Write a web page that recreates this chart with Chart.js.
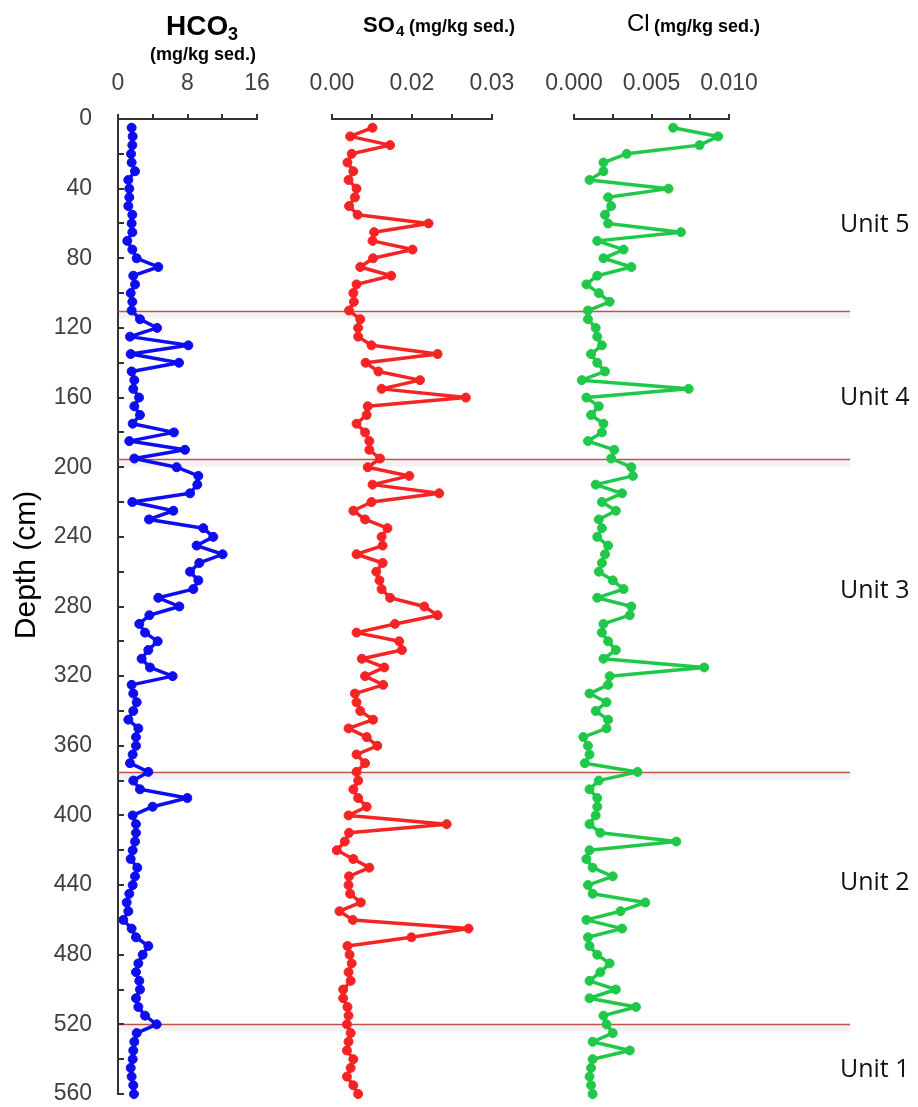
<!DOCTYPE html>
<html>
<head>
<meta charset="utf-8">
<script src="https://cdn.jsdelivr.net/npm/chart.js@4.4.1/dist/chart.umd.min.js"></script>
<style>
  body { margin: 0; background: #fff; }
  #wrap { position: relative; width: 918px; height: 1107px; }
  #wrap canvas { position: absolute; left: 0; top: 0; }
</style>
</head>
<body>
<div id="wrap">
  <canvas id="hco" width="918" height="1107"></canvas>
  <canvas id="so" width="918" height="1107"></canvas>
  <canvas id="cl" width="918" height="1107"></canvas>
</div>
<script>
// depth of each sample (cm)
let depth = [5, 10, 15, 20, 25, 30, 35, 40, 45, 50, 55, 60, 65, 70, 75, 80, 85, 90, 95, 100,
    105, 110, 115, 120, 125, 130, 135, 140, 145, 150, 155, 160, 165, 170, 175, 180, 185, 190, 195, 200,
    205, 210, 215, 220, 225, 230, 235, 240, 245, 250, 255, 260, 265, 270, 275, 280, 285, 290, 295, 300,
    305, 310, 315, 320, 325, 330, 335, 340, 345, 350, 355, 360, 365, 370, 375, 380, 385, 390, 395, 400,
    405, 410, 415, 420, 425, 430, 435, 440, 445, 450, 455, 460, 465, 470, 475, 480, 485, 490, 495, 500,
    505, 510, 515, 520, 525, 530, 535, 540, 545, 550, 555, 560];

let hco3 = [1.57, 1.69, 1.65, 1.50, 1.57, 1.96, 1.19, 1.30, 1.30, 1.19, 1.65, 1.57, 1.65, 1.07, 1.65, 2.15, 4.64, 1.76, 1.96, 1.46,
    1.65, 1.57, 2.53, 4.50, 1.38, 8.10, 1.46, 7.02, 1.57, 1.88, 1.76, 2.42, 1.88, 2.53, 1.69, 6.44, 1.30, 7.71, 1.88, 6.75,
    9.25, 9.13, 8.29, 1.65, 6.37, 3.57, 9.82, 10.97, 9.05, 12.04, 9.36, 8.29, 9.25, 8.67, 4.64, 7.06, 3.61, 2.45, 3.11, 4.57,
    3.49, 2.72, 3.68, 6.29, 1.57, 1.76, 2.15, 1.76, 1.19, 2.34, 2.07, 2.07, 1.69, 1.38, 3.49, 1.76, 2.53, 7.98, 3.99, 1.69,
    2.07, 2.07, 1.96, 1.69, 1.46, 2.22, 1.96, 1.69, 1.30, 1.00, 1.19, 0.61, 1.57, 2.07, 3.49, 2.84, 2.34, 2.07, 2.45, 2.53,
    2.07, 2.34, 3.11, 4.45, 2.15, 1.88, 1.76, 1.69, 1.46, 1.57, 1.76, 1.84];

let so4 = [0.0076, 0.0034, 0.0109, 0.0037, 0.0029, 0.0040, 0.0031, 0.0046, 0.0043, 0.0032, 0.0048, 0.0181, 0.0079, 0.0076, 0.0151, 0.0077, 0.0053, 0.0111, 0.0046, 0.0040,
    0.0041, 0.0032, 0.0053, 0.0049, 0.0049, 0.0074, 0.0198, 0.0063, 0.0087, 0.0165, 0.0093, 0.0251, 0.0067, 0.0065, 0.0046, 0.0062, 0.0070, 0.0070, 0.0090, 0.0067,
    0.0145, 0.0076, 0.0201, 0.0074, 0.0040, 0.0062, 0.0104, 0.0093, 0.0095, 0.0046, 0.0095, 0.0083, 0.0089, 0.0093, 0.0109, 0.0173, 0.0198, 0.0118, 0.0046, 0.0126,
    0.0131, 0.0056, 0.0098, 0.0062, 0.0096, 0.0043, 0.0046, 0.0053, 0.0077, 0.0031, 0.0065, 0.0085, 0.0046, 0.0062, 0.0046, 0.0049, 0.0040, 0.0049, 0.0065, 0.0031,
    0.0215, 0.0032, 0.0024, 0.0009, 0.0040, 0.0070, 0.0032, 0.0031, 0.0034, 0.0054, 0.0014, 0.0039, 0.0256, 0.0149, 0.0029, 0.0033, 0.0037, 0.0031, 0.0035, 0.0021,
    0.0021, 0.0029, 0.0031, 0.0028, 0.0035, 0.0031, 0.0028, 0.0040, 0.0035, 0.0028, 0.0040, 0.0049];

let cl = [0.0064, 0.0093, 0.0081, 0.0034, 0.0019, 0.0019, 0.0010, 0.0061, 0.0022, 0.0024, 0.0020, 0.0022, 0.0069, 0.0015, 0.0032, 0.0019, 0.0037, 0.0015, 0.0008, 0.0016,
    0.0023, 0.0009, 0.0009, 0.0014, 0.0015, 0.0018, 0.0011, 0.0015, 0.0020, 0.0005, 0.0074, 0.0008, 0.0016, 0.0011, 0.0019, 0.0018, 0.0009, 0.0026, 0.0024, 0.0037,
    0.0038, 0.0014, 0.0031, 0.0018, 0.0027, 0.0016, 0.0018, 0.0015, 0.0022, 0.0020, 0.0018, 0.0016, 0.0025, 0.0032, 0.0015, 0.0037, 0.0036, 0.0019, 0.0018, 0.0022,
    0.0027, 0.0019, 0.0084, 0.0023, 0.0022, 0.0010, 0.0021, 0.0014, 0.0022, 0.0021, 0.0006, 0.0009, 0.0010, 0.0007, 0.0041, 0.0016, 0.0010, 0.0015, 0.0015, 0.0014,
    0.0010, 0.0017, 0.0066, 0.0010, 0.0008, 0.0012, 0.0025, 0.0009, 0.0012, 0.0046, 0.0030, 0.0008, 0.0031, 0.0009, 0.0010, 0.0015, 0.0023, 0.0017, 0.0010, 0.0027,
    0.0010, 0.0040, 0.0019, 0.0021, 0.0025, 0.0012, 0.0036, 0.0012, 0.0011, 0.0010, 0.0011, 0.0012];

// unit boundaries (cm) and unit names
let unitBounds = [110, 195, 375, 520];
let unitNames = ["Unit 5", "Unit 4", "Unit 3", "Unit 2", "Unit 1"];
let unitLabelDepth = [61, 160, 271, 439, 546];

// tick values and labels
let depthTicks = [0, 20, 40, 60, 80, 100, 120, 140, 160, 180, 200, 220, 240, 260, 280, 300,
    320, 340, 360, 380, 400, 420, 440, 460, 480, 500, 520, 540, 560];
let depthLabels = ["0", "", "40", "", "80", "", "120", "", "160", "", "200", "", "240", "", "280", "",
    "320", "", "360", "", "400", "", "440", "", "480", "", "520", "", "560"];
let hcoTicks = [0, 4, 8, 12, 16];
let hcoLabels = ["0", "", "8", "", "16"];
let soTicks = [0, 0.0075, 0.015, 0.0225, 0.03];
let soLabels = ["0.00", "", "0.02", "", "0.03"];
let clTicks = [0, 0.0025, 0.005, 0.0075, 0.01];
let clLabels = ["0.000", "", "0.005", "", "0.010"];

const FAMILY = "'Liberation Sans', Arial, sans-serif";
const TICK_COLOR = "#404040";
const AXIS_COLOR = "#333333";

// titles and extra drawing for every panel
let panelInfo = {
    hco: {
        title: [
            { text: "HCO", font: "bold 28px " + FAMILY, x: 166, y: 35 },
            { text: "3", font: "bold 18px " + FAMILY, x: 228, y: 40 },
            { text: "(mg/kg sed.)", font: "bold 18px " + FAMILY, x: 203, y: 60, align: "center" }
        ],
        depthAxis: true
    },
    so: {
        title: [
            { text: "SO", font: "bold 22px " + FAMILY, x: 363, y: 32 },
            { text: "4", font: "bold 15px " + FAMILY, x: 396, y: 36 },
            { text: "(mg/kg sed.)", font: "bold 18px " + FAMILY, x: 409, y: 32 }
        ]
    },
    cl: {
        title: [
            { text: "Cl", font: "24px " + FAMILY, x: 627, y: 31 },
            { text: "(mg/kg sed.)", font: "bold 18px " + FAMILY, x: 654, y: 32 }
        ]
    }
};

const decor = {
    id: "decor",
    beforeDatasetsDraw(chart) {
        let info = panelInfo[chart.canvas.id];
        if (!info.depthAxis) return;
        let ctx = chart.ctx;
        let y = chart.scales.y;
        let left = chart.chartArea.left;
        ctx.save();
        // unit boundaries with a soft shadow like the original
        unitBounds.forEach(d => {
            let py = Math.round(y.getPixelForValue(d)) + 0.5;
            ctx.strokeStyle = "rgba(0,0,0,0.05)";
            ctx.lineWidth = 6;
            ctx.beginPath();
            ctx.moveTo(left, py + 4);
            ctx.lineTo(850, py + 4);
            ctx.stroke();
            ctx.strokeStyle = "#c0504d";
            ctx.lineWidth = 1.5;
            ctx.beginPath();
            ctx.moveTo(left, py);
            ctx.lineTo(850, py);
            ctx.stroke();
        });
        // depth ticks point into the plot
        ctx.strokeStyle = AXIS_COLOR;
        ctx.lineWidth = 2;
        y.ticks.forEach(t => {
            let py = Math.round(y.getPixelForValue(t.value));
            ctx.beginPath();
            ctx.moveTo(left, py);
            ctx.lineTo(left + 6, py);
            ctx.stroke();
        });
        ctx.restore();
    },
    afterDraw(chart) {
        let info = panelInfo[chart.canvas.id];
        let ctx = chart.ctx;
        ctx.save();
        ctx.fillStyle = "#000";
        ctx.textBaseline = "alphabetic";
        info.title.forEach(s => {
            ctx.font = s.font;
            ctx.textAlign = s.align || "left";
            ctx.fillText(s.text, s.x, s.y);
        });
        if (info.depthAxis) {
            let y = chart.scales.y;
            ctx.font = "25px 'Open Sans', Lato, sans-serif";
            ctx.fillStyle = "#111";
            ctx.textAlign = "left";
            ctx.textBaseline = "middle";
            unitNames.forEach((n, i) => {
                ctx.fillText(n, 840, y.getPixelForValue(unitLabelDepth[i]));
            });
            ctx.translate(27, 565);
            ctx.rotate(-Math.PI / 2);
            ctx.textAlign = "center";
            ctx.font = "30px " + FAMILY;
            ctx.fillStyle = "#000";
            ctx.fillText("Depth (cm)", 0, 0);
        }
        ctx.restore();
    }
};

function makePanel(id, values, color, xTicks, xLabels, xMax, padLeft, padRight, showDepth) {
    let ctx = document.getElementById(id).getContext("2d");
    let yScale = {
        type: "linear",
        reverse: true,
        min: 0,
        max: 560,
        display: showDepth
    };
    if (showDepth) {
        yScale.afterFit = s => {
            s.width = 118;
            s.paddingTop = 0;
            s.paddingBottom = 0;
        };
        yScale.afterBuildTicks = s => { s.ticks = depthTicks.map(v => ({ value: v })); };
        yScale.ticks = {
            callback: (v, i) => depthLabels[i],
            autoSkip: false,
            padding: 26,
            color: TICK_COLOR,
            font: { family: FAMILY, size: 23 }
        };
        yScale.grid = { display: false, drawTicks: false };
        yScale.border = { display: true, color: AXIS_COLOR, width: 2 };
    }
    return new Chart(ctx, {
        type: "line",
        data: {
            datasets: [{
                data: values.map((v, i) => ({ x: v, y: depth[i] })),
                borderColor: color,
                backgroundColor: color,
                pointBackgroundColor: color,
                pointBorderColor: color,
                borderWidth: 3.5,
                borderJoinStyle: "round",
                borderCapStyle: "round",
                pointRadius: 4.5,
                pointBorderWidth: 1,
                tension: 0,
                clip: false
            }]
        },
        options: {
            responsive: false,
            animation: false,
            devicePixelRatio: 1,
            layout: { padding: { left: padLeft, right: padRight, top: 59, bottom: 13 } },
            plugins: { legend: { display: false }, tooltip: { enabled: false } },
            scales: {
                x: {
                    type: "linear",
                    position: "top",
                    min: 0,
                    max: xMax,
                    afterFit: s => { s.height = 60; },
                    afterBuildTicks: s => { s.ticks = xTicks.map(v => ({ value: v })); },
                    ticks: {
                        callback: (v, i) => xLabels[i],
                        autoSkip: false,
                        maxRotation: 0,
                        padding: 17,
                        color: TICK_COLOR,
                        font: { family: FAMILY, size: 23 }
                    },
                    grid: { drawOnChartArea: false, drawTicks: true, tickLength: 5, color: AXIS_COLOR, lineWidth: 2 },
                    border: { display: true, color: AXIS_COLOR, width: 2 }
                },
                y: yScale
            }
        },
        plugins: [decor]
    });
}

makePanel("hco", hco3, "#0d0df0", hcoTicks, hcoLabels, 16, 0, 661, true);
makePanel("so", so4, "#f52424", soTicks, soLabels, 0.03, 332, 426, false);
makePanel("cl", cl, "#20c84a", clTicks, clLabels, 0.01, 574, 189, false);
</script>
</body>
</html>
